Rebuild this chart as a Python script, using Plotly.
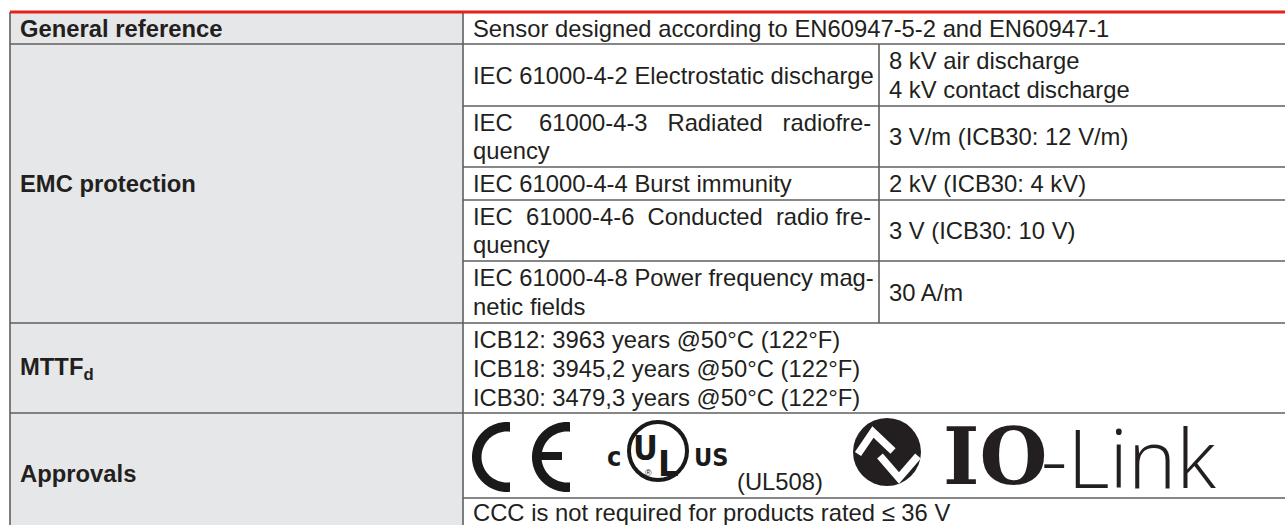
import numpy as np
import plotly.graph_objects as go

# ---------------- data (table content) ----------------
row_labels = ["General reference", "EMC protection", "MTTF<sub>d</sub>", "Approvals"]
general_value = "Sensor designed according to EN60947-5-2 and EN60947-1"
emc_tests = [
    ["IEC 61000-4-2 Electrostatic discharge"],
    ["IEC 61000-4-3 Radiated radiofre-", "quency"],
    ["IEC 61000-4-4 Burst immunity"],
    ["IEC 61000-4-6 Conducted radio fre-", "quency"],
    ["IEC 61000-4-8 Power frequency mag-", "netic fields"],
]
emc_values = [
    ["8 kV air discharge", "4 kV contact discharge"],
    ["3 V/m (ICB30: 12 V/m)"],
    ["2 kV (ICB30: 4 kV)"],
    ["3 V (ICB30: 10 V)"],
    ["30 A/m"],
]
mttf_lines = [
    "ICB12: 3963 years @50°C (122°F)",
    "ICB18: 3945,2 years @50°C (122°F)",
    "ICB30: 3479,3 years @50°C (122°F)",
]
ul_note = "(UL508)"
ul_letters = ["c", "U", "L", "US", "®"]
iolink_words = ["IO", "-Link"]
ccc_note = "CCC is not required for products rated ≤ 36 V"

# ---------------- layout geometry / style ----------------
W, H = 1285, 525
X_L, X_C2, X_C3, X_R = 10, 463, 879, 1285
ROW_EDGES = [12, 44, 106, 167, 200, 261, 323, 413, 498, 533]
PAD = 9
FS = 23.8
LINE = 28.5
FONT = "Liberation Sans, Arial, Helvetica, sans-serif"
NARROW = "Liberation Sans Narrow, DejaVu Sans Condensed, Arial Narrow, sans-serif"
TXT = "#231f20"
GRID = "#5f5f5f"
LABEL_BG = "#e6e7e8"
RED = "#e2231a"

ARIAL_W = {' ': 278, '-': 333, ':': 278, ',': 278, '.': 278, '(': 333, ')': 333, '/': 278,
           'A': 667, 'B': 667, 'C': 722, 'D': 722, 'E': 667, 'F': 611, 'G': 778, 'H': 722,
           'I': 278, 'J': 500, 'K': 667, 'L': 556, 'M': 833, 'N': 722, 'O': 778, 'P': 667,
           'Q': 778, 'R': 722, 'S': 667, 'T': 611, 'U': 722, 'V': 667, 'W': 944, 'X': 667,
           'Y': 667, 'Z': 611, 'a': 556, 'b': 556, 'c': 500, 'd': 556, 'e': 556, 'f': 278,
           'g': 556, 'h': 556, 'i': 222, 'j': 222, 'k': 500, 'l': 222, 'm': 833, 'n': 556,
           'o': 556, 'p': 556, 'q': 556, 'r': 333, 's': 500, 't': 278, 'u': 556, 'v': 500,
           'w': 722, 'x': 500, 'y': 500, 'z': 500}


def text_width(s, size):
    return sum(ARIAL_W.get(ch, 556) for ch in s) / 1000.0 * size


def justify(line, width, size):
    words = line.split(" ")
    gaps = len(words) - 1
    if gaps < 1:
        return line
    natural = sum(text_width(w, size) for w in words)
    sp = 0.278 * size
    total = max(gaps, int(round((width - natural) / sp)))
    base, extra = divmod(total, gaps)
    out = words[0]
    for i, w in enumerate(words[1:]):
        out += "\u00a0" * (base + (1 if i < extra else 0)) + w
    return out


fig = go.Figure()
shapes = []
annos = []


def hline(y, x0, x1, color=GRID, width=1.6):
    shapes.append(dict(type="line", xref="x", yref="y", x0=x0, x1=x1, y0=y, y1=y,
                       line=dict(color=color, width=width)))


def vline(x, y0, y1, color=GRID, width=1.6):
    shapes.append(dict(type="line", xref="x", yref="y", x0=x, x1=x, y0=y0, y1=y1,
                       line=dict(color=color, width=width)))


def text(x, y, s, size=FS, bold=False, family=FONT, anchor="left", color=TXT, weight=None):
    f = dict(family=family, size=size, color=color)
    if weight is not None:
        f["weight"] = weight
    elif bold:
        f["weight"] = "bold"
    annos.append(dict(x=x, y=y, xref="x", yref="y", text=s, showarrow=False,
                      xanchor=anchor, yanchor="middle", align="left", font=f,
                      borderpad=0))


def cell_lines(x, y0, y1, lines, spacing=LINE, **kw):
    mid = (y0 + y1) / 2.0
    n = len(lines)
    for i, ln in enumerate(lines):
        text(x, mid + (i - (n - 1) / 2.0) * spacing, ln, **kw)


# label column background
shapes.append(dict(type="rect", xref="x", yref="y", x0=X_L, x1=X_C2, y0=ROW_EDGES[0],
                   y1=ROW_EDGES[-1], fillcolor=LABEL_BG, line=dict(width=0), layer="below"))

# grid lines
for y in [ROW_EDGES[1], ROW_EDGES[6], ROW_EDGES[7]]:
    hline(y, X_L, X_R)
for y in [ROW_EDGES[2], ROW_EDGES[3], ROW_EDGES[4], ROW_EDGES[5], ROW_EDGES[8]]:
    hline(y, X_C2, X_R)
vline(X_L, ROW_EDGES[0], ROW_EDGES[-1])
vline(X_C2, ROW_EDGES[0], ROW_EDGES[-1])
vline(X_C3, ROW_EDGES[1], ROW_EDGES[6])
hline(ROW_EDGES[0], X_L, X_R, color=RED, width=3)

# labels
text(X_L + PAD, (ROW_EDGES[0] + ROW_EDGES[1]) / 2, row_labels[0], bold=True)
text(X_L + PAD, (ROW_EDGES[1] + ROW_EDGES[6]) / 2, row_labels[1], bold=True)
text(X_L + PAD, (ROW_EDGES[6] + ROW_EDGES[7]) / 2, row_labels[2], bold=True)
text(X_L + PAD, (ROW_EDGES[7] + ROW_EDGES[9]) / 2, row_labels[3], bold=True)

# general reference
text(X_C2 + PAD, (ROW_EDGES[0] + ROW_EDGES[1]) / 2, general_value)

# EMC rows
col2_w = X_C3 - X_C2 - 2 * PAD
for i, (tst, val) in enumerate(zip(emc_tests, emc_values)):
    y0, y1 = ROW_EDGES[1 + i], ROW_EDGES[2 + i]
    lines = list(tst)
    if len(lines) > 1:
        lines[0] = justify(lines[0], col2_w, FS)
    cell_lines(X_C2 + PAD, y0, y1, lines)
    cell_lines(X_C3 + PAD, y0, y1, val)

# MTTF
cell_lines(X_C2 + PAD, ROW_EDGES[6], ROW_EDGES[7], mttf_lines, spacing=29)

# CCC
text(X_C2 + PAD, (ROW_EDGES[8] + ROW_EDGES[9]) / 2 - 3, ccc_note)

# ---------------- logos (approvals row) ----------------
LOGO = "#1a1a1a"


def ring_path(cx, cy, ro, ri, cut):
    ao = np.arccos(cut / ro)
    ai = np.arccos(cut / ri)
    to = np.linspace(ao, 2 * np.pi - ao, 80)
    ti = np.linspace(2 * np.pi - ai, ai, 80)
    pts = [(cx + ro * np.cos(t), cy - ro * np.sin(t)) for t in to]
    pts += [(cx + ri * np.cos(t), cy - ri * np.sin(t)) for t in ti]
    return "M " + " L ".join(f"{x:.2f},{y:.2f}" for x, y in pts) + " Z"


ce_cy, ce_r, ce_ri = 457, 35, 25.5
for cx in (507, 567):
    shapes.append(dict(type="path", xref="x", yref="y", path=ring_path(cx, ce_cy, ce_r, ce_ri, 3),
                       fillcolor=LOGO, line=dict(width=0)))
shapes.append(dict(type="rect", xref="x", yref="y", x0=567 - 27, x1=562, y0=452, y1=460,
                   fillcolor=LOGO, line=dict(width=0)))

# cULus
shapes.append(dict(type="circle", xref="x", yref="y", x0=629, x1=687, y0=422, y1=480,
                   line=dict(color=LOGO, width=4)))
text(614, 456, ul_letters[0], size=27, family=NARROW, bold=True, anchor="center", color=LOGO)
text(645, 448, ul_letters[1], size=34, family=NARROW, bold=True, anchor="center", color=LOGO)
text(668, 463, ul_letters[2], size=36, family=NARROW, bold=True, anchor="center", color=LOGO)
text(711, 457, ul_letters[3], size=25, family=NARROW, bold=True, anchor="center", color=LOGO)
text(648, 473, ul_letters[4], size=9, anchor="center", color=LOGO)
text(736, 481, ul_note)

# IO-Link
shapes.append(dict(type="circle", xref="x", yref="y", x0=853, x1=921, y0=418, y1=486,
                   fillcolor=TXT, line=dict(width=0)))
shapes.append(dict(type="path", xref="x", yref="y", path="M 858,454 L 873,432 L 893,451",
                   line=dict(color="white", width=7.5)))
shapes.append(dict(type="path", xref="x", yref="y", path="M 880,456 L 899,478 L 918,456",
                   line=dict(color="white", width=7.5)))
text(942, 456, iolink_words[0], size=78, family="DejaVu Serif, serif", bold=True, color=TXT)
text(1040, 456, iolink_words[1], size=82, family="Open Sans, Lato, sans-serif", weight=300, color=TXT)

fig.update_layout(
    width=W, height=H, autosize=False,
    margin=dict(l=0, r=0, t=0, b=0, pad=0),
    paper_bgcolor="white", plot_bgcolor="white",
    xaxis=dict(range=[0, W], visible=False, fixedrange=True),
    yaxis=dict(range=[H, 0], visible=False, fixedrange=True),
    shapes=shapes, annotations=annos, showlegend=False,
)
fig.write_html(
    "out.html",
    config={"displayModeBar": False, "responsive": False},
    post_script="document.body.style.margin='0px';document.body.style.overflow='hidden';",
)
